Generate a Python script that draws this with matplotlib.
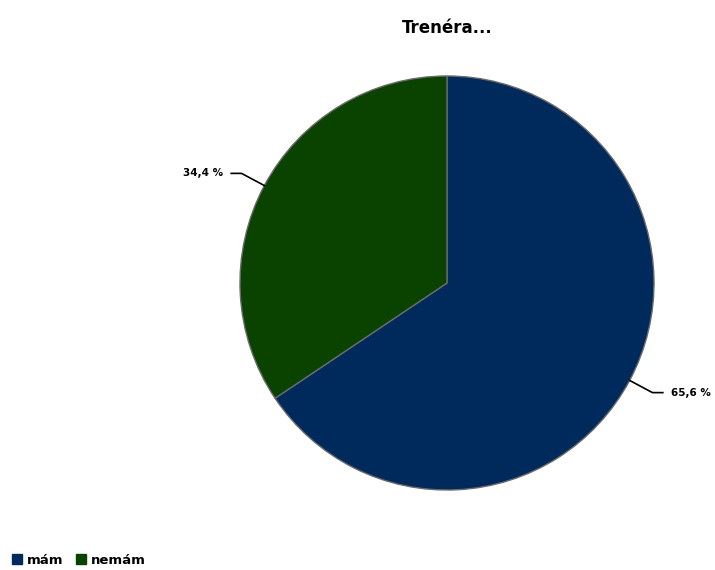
import matplotlib.pyplot as plt
from matplotlib.lines import Line2D
import numpy as np

labels = ['mám', 'nemám']
values = [65.6, 34.4]
colors = ['#002a5c', '#0a4200']
title = 'Trenéra...'

W, H = 715, 570
fig = plt.figure(figsize=(W / 100, H / 100), dpi=100)

# pie centre and radius in pixels
cx, cy, r = 447, 283, 207
ax = fig.add_axes([(cx - r) / W, (H - cy - r) / H, 2 * r / W, 2 * r / H])
wedges, _ = ax.pie(values, colors=colors, startangle=90, counterclock=False,
                   radius=1, wedgeprops=dict(edgecolor='#6a6a6a', linewidth=1))
ax.set_xlim(-1, 1)
ax.set_ylim(-1, 1)
ax.set_aspect('equal')
ax.axis('off')

# leader lines and percent labels
for w, v in zip(wedges, values):
    ang = np.deg2rad((w.theta1 + w.theta2) / 2)
    x0, y0 = np.cos(ang), np.sin(ang)
    ex, ey = 1.125 * x0, 1.125 * y0
    side = np.sign(x0)
    hx = ex + side * 0.05
    ax.plot([x0, ex, hx], [y0, ey, ey], color='black', lw=1.2, clip_on=False)
    ax.text(hx + side * 0.04, ey, f'{v:.1f} %'.replace('.', ','),
            ha='left' if side > 0 else 'right', va='center',
            fontsize=7.5, fontweight='bold', clip_on=False)

fig.text(cx / W, 1 - 28 / H, title, ha='center', va='center',
         fontsize=12, fontweight='bold')

handles = [Line2D([], [], marker='s', linestyle='none', markersize=7.5,
                  markerfacecolor=c, markeredgecolor=c) for c in colors]
fig.legend(handles, labels, loc='center left',
           bbox_to_anchor=(12 / W, 1 - 560 / H),
           ncol=2, frameon=False, handlelength=0.8, handletextpad=0.35,
           columnspacing=0.9, borderaxespad=0, borderpad=0,
           prop=dict(size=9.5, weight='bold'))

fig.savefig('out.png', dpi=100)
